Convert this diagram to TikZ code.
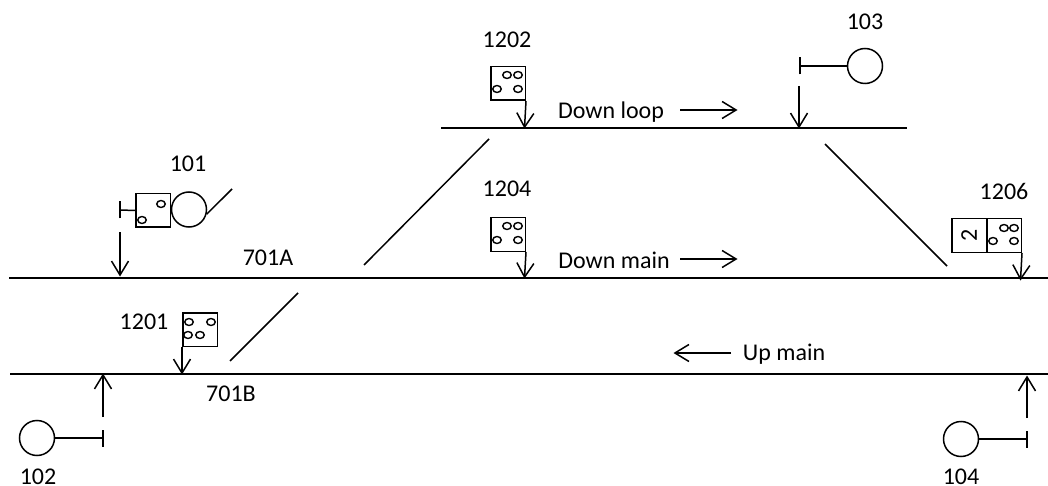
\documentclass[tikz,border=0pt]{standalone}
\usepackage{fontspec}
\setmainfont{Carlito}
\usetikzlibrary{arrows.meta,shapes.geometric}
\tikzset{
 every path/.style={line width=1.5pt,black},
 track/.style={draw,line width=1.6pt},
 arr/.style={draw,-{Straight Barb[length=14pt,width=17pt,line width=1.5pt]},shorten >=-0.5pt},
 lbl/.style={font=\fontsize{24}{28}\selectfont,inner sep=0pt,anchor=center},
 sbox/.style={draw,minimum width=34.5pt,minimum height=33.5pt,inner sep=0pt,anchor=north west,fill=white},
 lamp/.style={draw,ellipse,minimum width=8.5pt,minimum height=7pt,inner sep=0pt,line width=1.4pt},
 head/.style={draw,circle,minimum size=35pt,inner sep=0pt}
}
\begin{document}
\begin{tikzpicture}[x=1pt,y=-1pt]
\useasboundingbox (0,0) rectangle (1048,486);
% tracks
\coordinate (dlw) at (441,128); \coordinate (dle) at (907,128);
\coordinate (mw) at (9,278); \coordinate (me) at (1048,278);
\coordinate (uw) at (10,374); \coordinate (ue) at (1048,374);
\draw[track] (dlw) -- (dle);
\draw[track] (mw) -- (me);
\draw[track] (uw) -- (ue);
% crossovers
\coordinate (x1a) at (489,139); \coordinate (x1b) at (364,265);
\coordinate (x2a) at (825,144); \coordinate (x2b) at (947,266);
\coordinate (x3a) at (298,293); \coordinate (x3b) at (230,361);
\draw (x1a) -- (x1b);
\draw (x2a) -- (x2b);
\draw (x3a) -- (x3b);
% 1202
\node[sbox] (s1202) at (490,66) {};
\foreach \n/\x/\y in {a/507/75,b/518/75,c/497/89,d/518/89} \node[lamp] (l1202\n) at (\x,\y) {};
\coordinate (t1202) at (524.5,128);
\draw[arr] (s1202.south east) -- (t1202);
% 1204
\node[sbox] (s1204) at (490,217) {};
\foreach \n/\x/\y in {a/507/226,b/518/226,c/497/240,d/518/240} \node[lamp] (l1204\n) at (\x,\y) {};
\coordinate (t1204) at (524.5,278);
\draw[arr] (s1204.south east) -- (t1204);
% 1206
\node[sbox] (s1206b) at (951,218) {};
\node[sbox] (s1206) at (986,218) {};
\node[lbl,rotate=90] (s1206t) at (969,235) {2};
\foreach \n/\x/\y in {a/1004/228,b/1014/228,c/993/241,d/1014/241} \node[lamp] (l1206\n) at (\x,\y) {};
\coordinate (t1206) at (1020.5,280);
\draw[arr] (s1206.south east) -- (t1206);
% 1201
\node[sbox] (s1201) at (182,312) {};
\foreach \n/\x/\y in {a/189/322,b/211/322,c/188/335,d/200/335} \node[lamp] (l1201\n) at (\x,\y) {};
\coordinate (t1201) at (182,374);
\draw[arr] (s1201.south west) -- (t1201);
% 101
\node[sbox] (s101) at (135,193) {};
\foreach \n/\x/\y in {a/161/204,b/142/220} \node[lamp] (l101\n) at (\x,\y) {};
\node[head] (h101) at (189,209.5) {};
\coordinate (b101) at (120,210);
\coordinate (e101) at (232,189);
\draw (s101.west) -- (b101);
\draw ([yshift=-8.5pt]b101) -- ([yshift=8.5pt]b101);
\draw (h101.-15) -- (e101);
\coordinate (a101s) at (120,232); \coordinate (a101e) at (120,276);
\draw[arr] (a101s) -- (a101e);
% 103
\node[head] (h103) at (865,66) {};
\coordinate (b103) at (800,66);
\draw (h103) -- (b103);
\draw ([yshift=-8.5pt]b103) -- ([yshift=8.5pt]b103);
\coordinate (a103s) at (799,86); \coordinate (a103e) at (799,128);
\draw[arr] (a103s) -- (a103e);
% 102
\node[head] (h102) at (37,438) {};
\coordinate (b102) at (103,438);
\draw (h102) -- (b102);
\draw ([yshift=-8.5pt]b102) -- ([yshift=8.5pt]b102);
\coordinate (a102s) at (103,417); \coordinate (a102e) at (103,374);
\draw[arr] (a102s) -- (a102e);
% 104
\node[head] (h104) at (961,439) {};
\coordinate (b104) at (1027,439);
\draw (h104) -- (b104);
\draw ([yshift=-8.5pt]b104) -- ([yshift=8.5pt]b104);
\coordinate (a104s) at (1027,418); \coordinate (a104e) at (1027,376);
\draw[arr] (a104s) -- (a104e);
% direction arrows
\coordinate (d1s) at (680,110); \coordinate (d1e) at (737,110);
\coordinate (d2s) at (680,259); \coordinate (d2e) at (737,259);
\coordinate (d3s) at (731,353); \coordinate (d3e) at (674,353);
\draw[arr] (d1s) -- (d1e);
\draw[arr] (d2s) -- (d2e);
\draw[arr] (d3s) -- (d3e);
% labels
\node[lbl] (t1202l) at (507,40) {1202};
\node[lbl] (t103) at (865,22) {103};
\node[lbl] (t101) at (188,164) {101};
\node[lbl] (t1204l) at (507,189) {1204};
\node[lbl] (t1206l) at (1004,191) {1206};
\node[lbl] (t701a) at (268,258) {701A};
\node[lbl] (t1201l) at (144,322) {1201};
\node[lbl] (t701b) at (231,394) {701B};
\node[lbl] (t102) at (38,477) {102};
\node[lbl] (t104) at (961,477) {104};
\node[lbl] (tdl) at (611,112) {Down loop};
\node[lbl] (tdm) at (614,260) {Down main};
\node[lbl] (tum) at (784,354) {Up main};
\end{tikzpicture}
\end{document}
